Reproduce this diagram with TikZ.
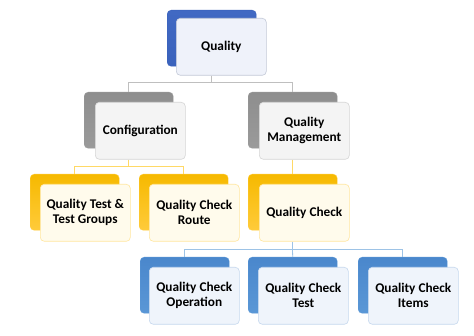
\documentclass[tikz,border=0pt]{standalone}
\usepackage{fontspec}
\setmainfont{Carlito}
\begin{document}
\begin{tikzpicture}[x=1pt,y=-1pt,
  backbox/.style={rounded corners=4pt, minimum width=89pt, minimum height=56pt, inner sep=0pt, anchor=north west},
  frontbox/.style={rounded corners=4pt, minimum width=90pt, minimum height=57pt, inner sep=1pt, anchor=north west, align=center, font=\bfseries\fontsize{13.3}{15}\selectfont, line width=0.6pt},
  blueback/.style={backbox, top color=blue1, bottom color=blue2, draw=blue2},
  grayback/.style={backbox, top color=gray1, bottom color=gray2, draw=gray2},
  goldback/.style={backbox, top color=gold1, bottom color=gold2, draw=gold2},
  lblueback/.style={backbox, top color=lblue1, bottom color=lblue2, draw=lblue2},
  bluefront/.style={frontbox, fill=bluefill, draw=blueedge},
  grayfront/.style={frontbox, fill=grayfill, draw=grayedge},
  goldfront/.style={frontbox, fill=goldfill, draw=goldedge},
  lbluefront/.style={frontbox, fill=lbluefill, draw=lblueedge},
  grayline/.style={draw=lineGray, line width=0.8pt},
  goldline/.style={draw=lineGold, line width=0.8pt},
  blueline/.style={draw=lineBlue, line width=0.8pt}
]
\definecolor{blue1}{HTML}{4169C3}
\definecolor{blue2}{HTML}{3A62BC}
\definecolor{gray1}{HTML}{8E8E8E}
\definecolor{gray2}{HTML}{9A9A9A}
\definecolor{gold1}{HTML}{F6B900}
\definecolor{gold2}{HTML}{FFCB3A}
\definecolor{lblue1}{HTML}{4A87CC}
\definecolor{lblue2}{HTML}{5A97D6}
\definecolor{bluefill}{HTML}{EFF2FA}
\definecolor{blueedge}{HTML}{C4CAD8}
\definecolor{grayfill}{HTML}{F4F4F4}
\definecolor{grayedge}{HTML}{D6D6D6}
\definecolor{goldfill}{HTML}{FFFBEC}
\definecolor{goldedge}{HTML}{FFE7A0}
\definecolor{lbluefill}{HTML}{EFF4FB}
\definecolor{lblueedge}{HTML}{C6D8EE}
\definecolor{lineGray}{HTML}{BFBFBF}
\definecolor{lineGold}{HTML}{FFD966}
\definecolor{lineBlue}{HTML}{9DC3E6}
\useasboundingbox[fill=white] (0,0) rectangle (474,336);

% level 1
\node[blueback] (qualityB) at (167,10) {};
\node[bluefront, minimum height=57pt] (quality) at (176,18) {Quality};
% level 2
\node[grayback] (configB) at (84,92) {};
\node[grayfront] (config) at (95,102) {Configuration};
\node[grayback] (qmB) at (248,92) {};
\node[grayfront] (qm) at (259,102) {Quality\\Management};
% level 3
\node[goldback] (qtB) at (30,174) {};
\node[goldfront] (qt) at (40,184) {Quality Test \&\\Test Groups};
\node[goldback] (qcrB) at (139,174) {};
\node[goldfront] (qcr) at (149,184) {Quality Check\\Route};
\node[goldback] (qcB) at (248,174) {};
\node[goldfront] (qc) at (259,184) {Quality Check};
% level 4
\node[lblueback] (qcoB) at (140,257) {};
\node[lbluefront] (qco) at (149,267) {Quality Check\\Operation};
\node[lblueback] (qctB) at (248,257) {};
\node[lbluefront] (qct) at (258,267) {Quality Check\\Test};
\node[lblueback] (qciB) at (358,257) {};
\node[lbluefront] (qci) at (368,267) {Quality Check\\Items};

% connectors
\coordinate (j1) at (211.5,82);
\coordinate (j2) at (128.5,166);
\coordinate (j3) at (292.5,249);
\draw[grayline] (quality.south -| j1) -- (j1);
\draw[grayline] (j1) -| (configB.north);
\draw[grayline] (j1) -| (qmB.north);
\draw[goldline] (config.south -| j2) -- (j2);
\draw[goldline] (j2) -| (qtB.north);
\draw[goldline] (j2) -| (qcrB.north);
\draw[goldline] (qm.south -| qcB.north) -- (qcB.north);
\draw[blueline] (qc.south -| j3) -- (j3);
\draw[blueline] (j3) -| (qcoB.north);
\draw[blueline] (j3) -- (qctB.north);
\draw[blueline] (j3) -| (qciB.north);
\end{tikzpicture}
\end{document}
